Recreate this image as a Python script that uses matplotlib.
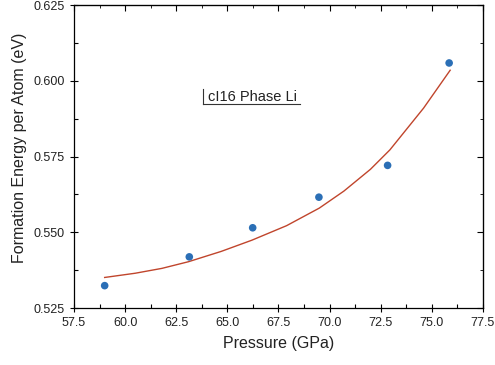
import matplotlib
matplotlib.use("Agg")
import matplotlib.pyplot as plt
from matplotlib.ticker import MultipleLocator, FormatStrFormatter

plt.rcParams["font.family"] = ["Liberation Sans", "DejaVu Sans"]

# measured points
pressure = [59.0, 63.14, 66.24, 69.48, 72.84, 75.85]
energy = [0.5324, 0.5419, 0.5515, 0.5616, 0.5721, 0.6059]

# fitted curve
fit_p = [59.0, 60.5, 61.8, 63.1, 64.7, 66.2, 67.9, 69.5, 70.7, 72.0, 72.95, 74.6, 75.9]
fit_e = [0.5351, 0.5365, 0.5381, 0.5403, 0.5437, 0.5474, 0.5522, 0.5580,
         0.5636, 0.5708, 0.5772, 0.5910, 0.6035]

fig = plt.figure(figsize=(4.95, 3.65), dpi=100)
ax = fig.add_axes([0.1495, 0.156, 0.826, 0.830])

ax.plot(fit_p, fit_e, color="#c0452c", lw=1.0, zorder=2)
ax.scatter(pressure, energy, s=30, color="#2b6fb6", zorder=3, edgecolors="none")

ax.set_xlim(57.5, 77.5)
ax.set_ylim(0.525, 0.625)
ax.xaxis.set_major_locator(MultipleLocator(2.5))
ax.xaxis.set_minor_locator(MultipleLocator(1.25))
ax.yaxis.set_major_locator(MultipleLocator(0.025))
ax.yaxis.set_minor_locator(MultipleLocator(0.0125))
ax.xaxis.set_major_formatter(FormatStrFormatter("%.1f"))
ax.yaxis.set_major_formatter(FormatStrFormatter("%.3f"))

ax.tick_params(which="major", direction="inout", length=6, width=0.8,
               labelsize=9, labelcolor="#222222", top=False, right=False)
ax.tick_params(which="minor", direction="in", length=3, width=0.8,
               top=False, right=False)
# mirrored ticks on top/right pointing in
sec_x = ax.secondary_xaxis("top")
sec_x.xaxis.set_major_locator(MultipleLocator(2.5))
sec_x.xaxis.set_minor_locator(MultipleLocator(1.25))
sec_x.tick_params(which="both", direction="in", labeltop=False)
sec_x.tick_params(which="major", length=4)
sec_x.tick_params(which="minor", length=2.5)
sec_y = ax.secondary_yaxis("right")
sec_y.yaxis.set_major_locator(MultipleLocator(0.025))
sec_y.yaxis.set_minor_locator(MultipleLocator(0.0125))
sec_y.tick_params(which="both", direction="in", labelright=False)
sec_y.tick_params(which="major", length=4)
sec_y.tick_params(which="minor", length=2.5)

for sp in ax.spines.values():
    sp.set_linewidth(0.9)

ax.set_xlabel("Pressure (GPa)", fontsize=11.5, labelpad=5, color="#222222")
ax.set_ylabel("Formation Energy per Atom (eV)", fontsize=11.5, color="#222222")
ax.yaxis.set_label_coords(-0.115, 0.53)

# legend-like label with left and bottom border
ax.plot([0.315, 0.315], [0.673, 0.722], transform=ax.transAxes, color="#333333", lw=0.8)
ax.plot([0.315, 0.553], [0.673, 0.673], transform=ax.transAxes, color="#333333", lw=0.8)
ax.text(0.328, 0.697, "cI16 Phase Li", transform=ax.transAxes, fontsize=10.5,
        va="center", ha="left", color="#222222")

fig.savefig("out.png", dpi=100)
